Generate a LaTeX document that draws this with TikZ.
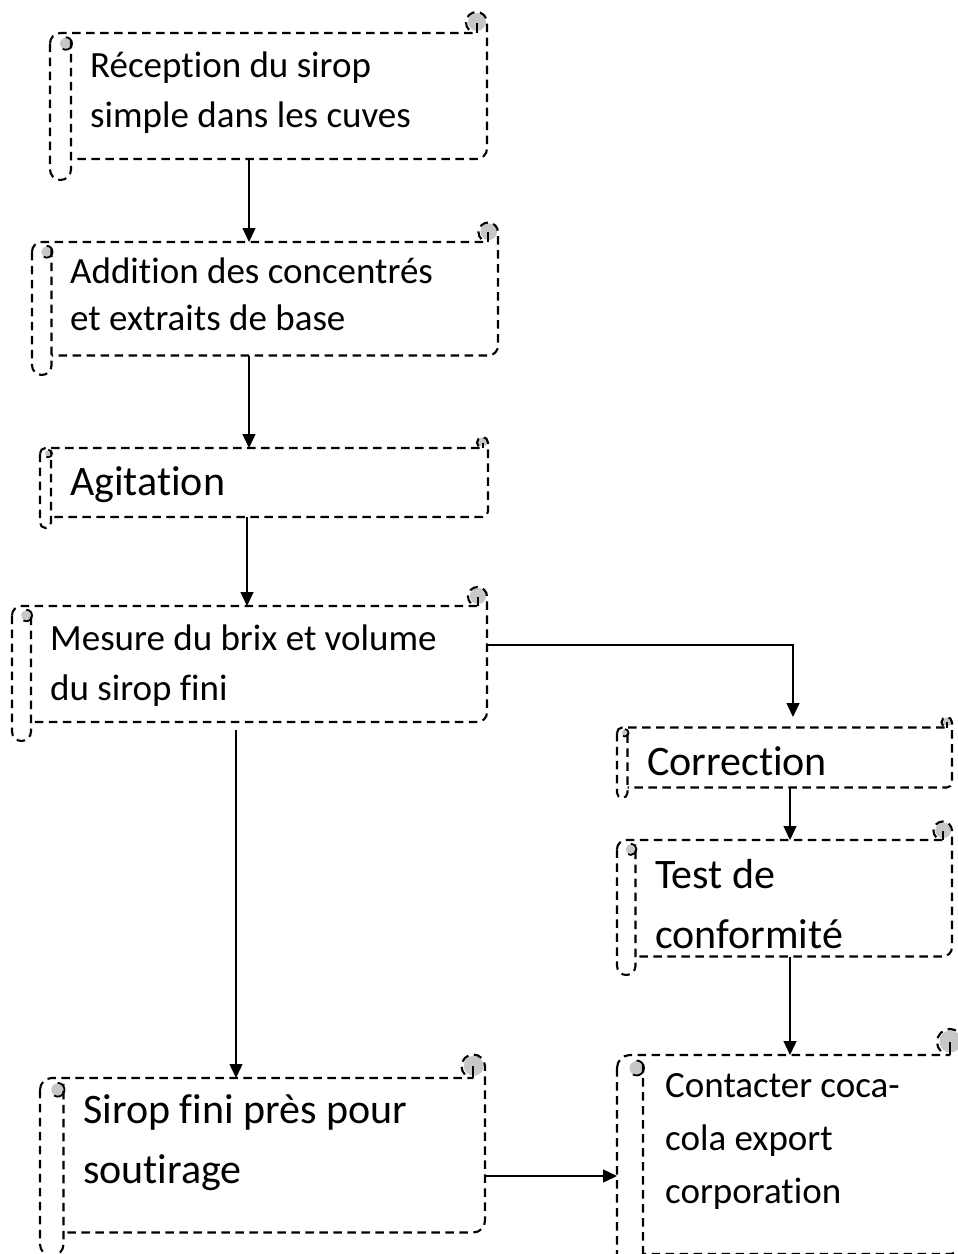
\documentclass[tikz,border=0pt]{standalone}
\usepackage{fontspec}
\setmainfont{Carlito}[Ligatures=NoCommon]
\usetikzlibrary{arrows.meta}

\tikzset{
  outline/.style={line width=2.1pt, dash pattern=on 8.5pt off 5.5pt},
  curlfill/.style={fill=black!22, draw=none},
  link/.style={line width=1.4pt, -{Triangle[length=14pt,width=13pt]}},
  bodybox/.style={draw=none, rectangle, inner sep=0pt, outer sep=0pt},
  caption/.style={anchor=base west, inner sep=0pt},
  small/.style={font=\fontsize{37}{50}\selectfont},
  large/.style={font=\fontsize{42}{60}\selectfont},
}

% Horizontal scroll: #1 name, #2 left, #3 top, #4 right, #5 bottom, #6 roll size
\newcommand\scrollshape[6]{%
  \pgfmathsetmacro\sxa{#2}%
  \pgfmathsetmacro\sya{#3}%
  \pgfmathsetmacro\sxb{#4}%
  \pgfmathsetmacro\syb{#5}%
  \pgfmathsetmacro\sch{#6}%
  \pgfmathsetmacro\schh{#6/2}%
  \pgfmathsetmacro\schq{#6/4}%
  \pgfmathsetmacro\sbw{#4-#2-#6}%
  \pgfmathsetmacro\sbh{#5-#3-2*#6}%
  \pgfmathsetmacro\sow{#4-#2}%
  \pgfmathsetmacro\soh{#5-#3}%
  % sheet body and whole outline, used as connector ends
  \node[bodybox, minimum width=\sbw pt, minimum height=\sbh pt] (#1)
    at ({(\sxa+\sch+\sxb)/2},{(\sya+\syb)/2}) {};
  \node[bodybox, minimum width=\sow pt, minimum height=\soh pt] (#1-o)
    at ({(\sxa+\sxb)/2},{(\sya+\syb)/2}) {};
  % shaded insides of the two rolls
  \fill[curlfill] ({\sxb-\schh+0.5},{\sya+\schh-0.5}) circle[radius={0.85*\schh}];
  \fill[curlfill] ({\sxa+\schh+\schq},{\sya+\sch+\schh}) circle[radius={\schq+0.5}];
  % top edge with rounded upper left corner
  \draw[outline] (\sxa,{\sya+\sch+\schh})
    arc[start angle=180, end angle=270, radius=\schh]
    -- ({\sxb-\schh},{\sya+\sch});
  % top right roll, right edge, bottom edge
  \draw[outline] ({\sxb-\schh},{\sya+\schh}) ++(135:\schh)
    arc[start angle=135, end angle=360, radius=\schh]
    -- (\sxb,{\syb-\sch-\schh})
    arc[start angle=0, end angle=90, radius=\schh]
    -- ({\sxa+\sch},{\syb-\sch});
  \draw[line width=2pt] ({\sxb-\schh},{\sya+\schh}) -- ({\sxb-\schh},{\sya+\sch});
  % left roll
  \draw[outline] (\sxa,{\sya+\sch+\schh}) -- (\sxa,{\syb-\schh})
    arc[start angle=180, end angle=0, radius=\schh]
    -- ({\sxa+\sch},{\sya+\sch+\schq});
  \draw[line width=1.8pt] ({\sxa+\schh+\schq},{\sya+\sch+\schh}) ++(-90:{\schq+1})
    arc[start angle=-90, end angle=120, radius={\schq+1}];
}

\begin{document}
\begin{tikzpicture}[x=1pt, y=-1pt]
  \useasboundingbox (0,0) rectangle (958,1254);

  % process steps
  \scrollshape{recep}{50}{12}{487}{180}{21}
  \scrollshape{addit}{32}{222.5}{498}{375}{19.5}
  \scrollshape{agit}{40}{437}{488}{528}{11}
  \scrollshape{mesure}{12}{587}{487}{741}{19}
  \scrollshape{corr}{617}{717}{952}{798}{10.5}
  \scrollshape{test}{617}{821.5}{952}{975}{18.5}
  \scrollshape{cont}{617}{1029}{963}{1280}{26}
  \scrollshape{sirop}{40}{1054.5}{485}{1256}{23.5}

  % labels
  \node[caption, small] (t-recep) at (90,77)
    {\vtop{\hbox{Réception du sirop}\hbox{simple dans les cuves}}};
  \node[caption, font=\fontsize{37}{47}\selectfont] (t-addit) at (70,283)
    {\vtop{\hbox{Addition des concentrés}\hbox{et extraits de base}}};
  \node[caption, large] (t-agit) at (70,495) {Agitation};
  \node[caption, small] (t-mesure) at (50,650)
    {\vtop{\hbox{Mesure du brix et volume}\hbox{du sirop fini}}};
  \node[caption, large] (t-corr) at (647,775) {Correction};
  \node[caption, large] (t-test) at (655,888)
    {\vtop{\hbox{Test de}\hbox{conformité}}};
  \node[caption, font=\fontsize{37}{53}\selectfont] (t-cont) at (665,1097)
    {\vtop{\hbox{Contacter coca-}\hbox{cola export}\hbox{corporation}}};
  \node[caption, large] (t-sirop) at (83,1123)
    {\vtop{\hbox{Sirop fini près pour}\hbox{soutirage}}};

  % connector columns and rows
  \coordinate (colA) at (249,0);
  \coordinate (colB) at (247,0);
  \coordinate (colC) at (793,0);
  \coordinate (colD) at (790,0);
  \coordinate (colE) at (236,0);
  \coordinate (rowA) at (0,645);
  \coordinate (rowB) at (0,1176);

  % connectors
  \draw[link] (colA |- recep.south) -- (colA |- addit.north);
  \draw[link] (colA |- addit.south) -- (colA |- agit.north);
  \draw[link] (colB |- agit.south) -- (colB |- mesure.north);
  \draw[link] (rowA -| mesure.east) -| (colC |- corr-o.north);
  \draw[link] (colD |- corr.south) -- (colD |- test.north);
  \draw[link] (colD |- test.south) -- (colD |- cont.north);
  \draw[link] ([yshift=-8pt]colE |- mesure.south) -- (colE |- sirop.north);
  \draw[link] (rowB -| sirop.east) -- (rowB -| cont-o.west);
\end{tikzpicture}
\end{document}
